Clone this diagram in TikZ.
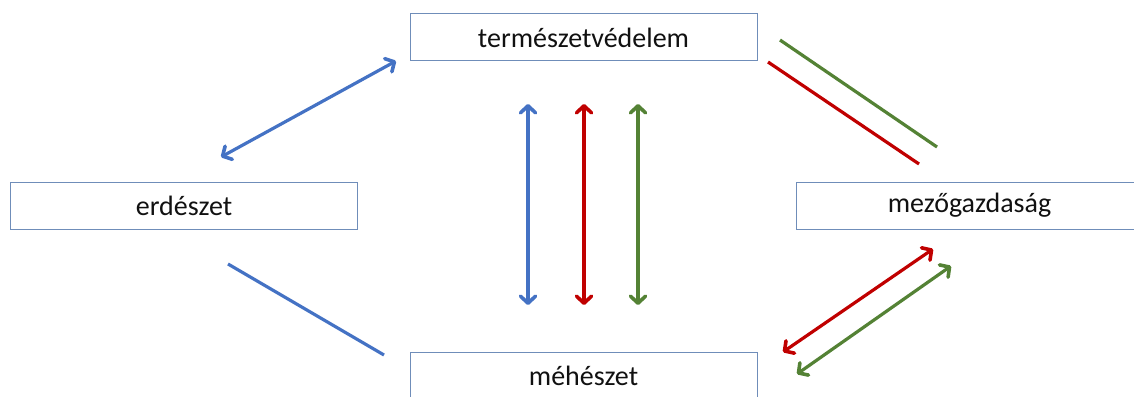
\documentclass[tikz,border=0pt]{standalone}
\usepackage{fontspec}
\setmainfont{Carlito}
\usetikzlibrary{arrows.meta}
\definecolor{boxline}{HTML}{6F8DB9}
\definecolor{cblue}{HTML}{4472C4}
\definecolor{cred}{HTML}{C00000}
\definecolor{cgreen}{HTML}{548235}
\definecolor{txt}{HTML}{111111}
\tikzset{
  field/.style={draw=boxline, line width=1pt, minimum width=347pt, minimum height=47pt,
    inner sep=0pt, font=\fontsize{28}{32}\selectfont, text=txt},
  link/.style={line width=3.2pt},
  barb/.tip={Straight Barb[length=7pt,width=15pt,line width=3.6pt,round]},
  twoway/.style={link, barb-barb},
}
\begin{document}
\begin{tikzpicture}[x=1pt,y=-1pt]
  \useasboundingbox (0,0) rectangle (1134,396);
  \clip (0,0) rectangle (1134,396);

  % the four fields
  \node[field] (tv) at (583.5,37.5) {természetvédelem};
  \node[field] (er) at (184,205.5) {erdészet};
  \node[field] (mg) at (969.5,205.5) {mezőgazdaság};
  \node[field] (me) at (583.5,375.5) {méhészet};

  % end points of the connectors
  \coordinate (b1a) at (396,61);
  \coordinate (b1b) at (221,157);
  \coordinate (b2a) at (228,264);
  \coordinate (b2b) at (384,355);
  \coordinate (vba) at (528,104);
  \coordinate (vbb) at (528,305);
  \coordinate (vra) at (584,104);
  \coordinate (vrb) at (584,305);
  \coordinate (vga) at (638,104);
  \coordinate (vgb) at (638,305);
  \coordinate (tga) at (780,40);
  \coordinate (tgb) at (937,147);
  \coordinate (tra) at (768,62);
  \coordinate (trb) at (919,164);
  \coordinate (mra) at (933,249);
  \coordinate (mrb) at (783,352);
  \coordinate (mga) at (951,266);
  \coordinate (mgb) at (797,374);

  % erdészet links
  \draw[twoway, cblue] (b1a) -- (b1b);
  \draw[link, cblue] (b2a) -- (b2b);

  % természetvédelem -- méhészet
  \draw[twoway, cblue] (vba) -- (vbb);
  \draw[twoway, cred] (vra) -- (vrb);
  \draw[twoway, cgreen] (vga) -- (vgb);

  % természetvédelem -- mezőgazdaság
  \draw[link, cgreen] (tga) -- (tgb);
  \draw[link, cred] (tra) -- (trb);

  % mezőgazdaság -- méhészet
  \draw[twoway, cred] (mra) -- (mrb);
  \draw[twoway, cgreen] (mga) -- (mgb);
\end{tikzpicture}
\end{document}
